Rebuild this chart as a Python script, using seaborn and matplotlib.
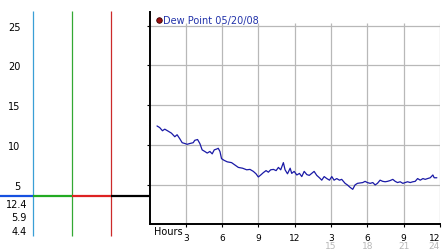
import matplotlib
matplotlib.use("Agg")
import matplotlib.pyplot as plt
import seaborn as sns
import pandas as pd
from matplotlib.lines import Line2D

# ---- data ----
hours = [0.62, 0.84, 1.07, 1.26, 1.54, 1.81, 2.09, 2.28, 2.5, 2.7, 2.92, 3.11, 3.33, 3.61, 3.74,
         3.97, 4.16, 4.35, 4.57, 4.77, 4.99, 5.18, 5.35, 5.54, 5.68, 5.82, 5.95, 6.15, 6.42, 6.78,
         7.06, 7.34, 7.69, 8.03, 8.3, 8.58, 8.8, 8.99, 9.19, 9.41, 9.63, 9.82, 10.01, 10.24, 10.46,
         10.65, 10.84, 11.06, 11.2, 11.4, 11.62, 11.75, 11.95, 12.17, 12.39, 12.58, 12.78, 13.0,
         13.2, 13.4, 13.6, 13.82, 14.04, 14.23, 14.43, 14.65, 14.87, 15.06, 15.25, 15.47, 15.69,
         15.88, 16.02, 16.16, 16.35, 16.57, 16.79, 16.98, 17.18, 17.4, 17.62, 17.81, 18.0, 18.23,
         18.45, 18.64, 18.83, 19.05, 19.27, 19.47, 19.66, 19.88, 20.1, 20.3, 20.49, 20.71, 20.93,
         21.12, 21.32, 21.54, 21.76, 21.95, 22.15, 22.37, 22.59, 22.78, 22.97, 23.19, 23.41, 23.52,
         23.74]
dew_point = [12.4, 12.2, 11.8, 12.0, 11.75, 11.5, 11.05, 11.3, 10.8, 10.3, 10.2, 10.1, 10.2, 10.3, 10.6,
             10.7, 10.2, 9.4, 9.2, 9.0, 9.2, 8.9, 9.4, 9.5, 9.6, 9.2, 8.3, 8.1, 7.9, 7.8,
             7.5, 7.2, 7.1, 6.9, 6.95, 6.7, 6.4, 6.0, 6.25, 6.55, 6.8, 6.6, 6.9, 6.95, 6.8,
             7.2, 6.9, 7.8, 6.9, 6.4, 7.1, 6.45, 6.7, 6.25, 6.45, 6.05, 6.7, 6.3,
             6.2, 6.45, 6.7, 6.2, 5.9, 5.6, 6.05, 5.8, 5.6, 6.05, 5.6, 5.8, 5.6,
             5.7, 5.45, 5.2, 5.0, 4.7, 4.45, 5.0, 5.2, 5.25, 5.3, 5.45, 5.3, 5.2,
             5.3, 5.0, 5.2, 5.6, 5.45, 5.4, 5.45, 5.55, 5.7, 5.45, 5.3, 5.4, 5.2,
             5.3, 5.4, 5.3, 5.4, 5.45, 5.8, 5.6, 5.8, 5.7, 5.8, 5.9, 6.25, 5.9,
             5.9]
y_ticks = [5, 10, 15, 20, 25]
x_ticks = [3, 6, 9, 12, 15, 18, 21, 24]
x_tick_labels = ["3", "6", "9", "12", "3", "6", "9", "12"]
x_tick_labels_24h = ["15", "18", "21", "24"]
x_ticks_24h = [15, 18, 21, 24]
stat_values = ["12.4", "5.9", "4.4"]
legend_label = "Dew Point 05/20/08"

df = pd.DataFrame({"hour": hours, "dew": dew_point})

sns.set_theme(style="white")
plt.rcParams["font.family"] = ["DejaVu Sans"]

W, H = 442, 253
fig = plt.figure(figsize=(W / 100, H / 100), dpi=100)
fig.patch.set_facecolor("white")

# overlay for left-panel decorations (pixel coords)
ov = fig.add_axes([0, 0, 1, 1], zorder=0)
ov.set_xlim(0, W)
ov.set_ylim(H, 0)
ov.axis("off")
ov.patch.set_alpha(0)
ov.vlines([33, 72, 111], 12, 237, colors=["#3a9fd6", "#33a833", "#cc2a2a"], lw=0.9)
ov.hlines([196.5] * 4, [0, 33, 72, 111], [33, 72, 111, 149.5],
          colors=["#1550e0", "#22aa22", "#dd2222", "black"], lw=1.6)
for v, yy in zip(stat_values, [204.7, 218.3, 232]):
    ov.text(27, yy, v, ha="right", va="center", fontsize=7, color="black")

# main axes
ax = fig.add_axes([149.5 / W, (H - 225) / H, 290.5 / W, 212 / H], zorder=1)
ax.patch.set_alpha(0)
ax.set_xlim(0, 24)
ax.set_ylim(0.1, 26.7)

# grid
for yv in y_ticks:
    ax.axhline(yv, color="#b8b8b8", lw=0.9, zorder=0)
ax.vlines(x_ticks, 0.1, 25.3, colors="#b8b8b8", lw=0.9, zorder=0)

sns.lineplot(data=df, x="hour", y="dew", ax=ax, color="#1a1aa6", linewidth=0.9, zorder=3)

ax.set_xlabel("")
ax.set_ylabel("")
for s in ["top", "right"]:
    ax.spines[s].set_visible(False)
for s in ["left", "bottom"]:
    ax.spines[s].set_color("black")
    ax.spines[s].set_linewidth(1.4)

ax.set_yticks(y_ticks)
ax.set_yticklabels([str(v) for v in y_ticks])
ax.tick_params(axis="y", length=2, width=0.8, color="black", pad=91.0,
               labelsize=7, labelcolor="black", left=True)
ax.set_xticks(x_ticks)
ax.set_xticklabels(x_tick_labels)
ax.tick_params(axis="x", length=2.5, width=0.8, color="black", pad=4.3,
               labelsize=6.5, labelcolor="black", bottom=True)
ax.get_xticklabels()[-1].set_horizontalalignment("right")

xt = ax.get_xaxis_transform()
for i, (xv, lab) in enumerate(zip(x_ticks_24h, x_tick_labels_24h)):
    last = i == len(x_ticks_24h) - 1
    ax.text(xv, -0.1014, lab, transform=xt, ha="right" if last else "center", va="center",
            fontsize=6.5, color="#b8b8b8", clip_on=False)
ax.text(0.35, -0.032, "Hours", transform=xt, ha="left", va="center",
        fontsize=7, color="black", clip_on=False)

handle = Line2D([], [], marker="o", linestyle="", markersize=4,
                markerfacecolor="#9a0f0f", markeredgecolor="#3a0000", markeredgewidth=0.6)
ax.legend([handle], [legend_label], loc="center left", bbox_to_anchor=(0.022, 0.962),
          frameon=False, fontsize=7, labelcolor="#2233aa", handlelength=0.6,
          handletextpad=0.15, borderpad=0, borderaxespad=0)

fig.savefig("out.png", dpi=100, facecolor="white")
